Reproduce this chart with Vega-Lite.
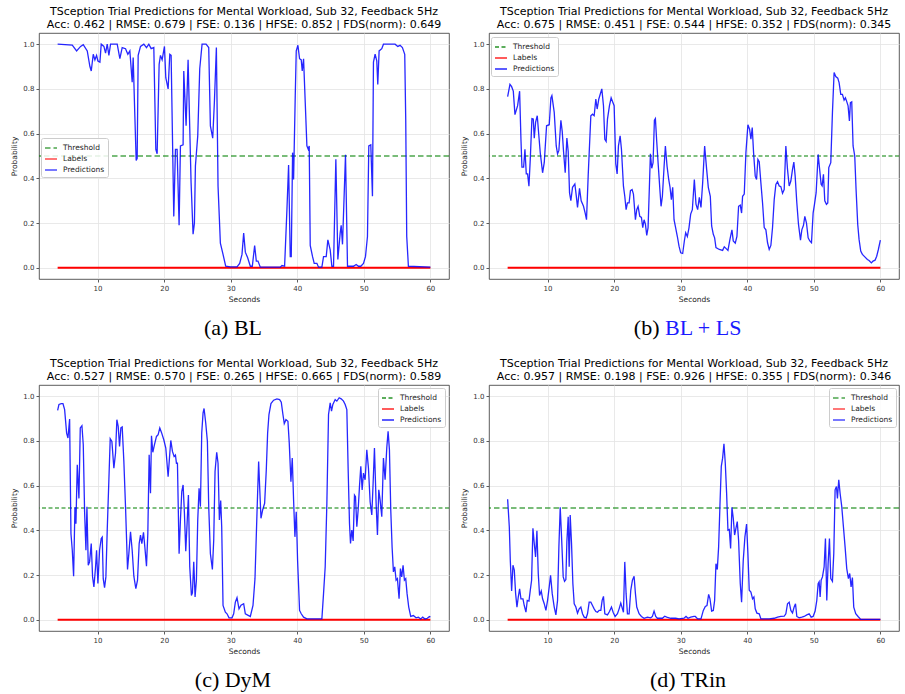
{
"$schema": "https://vega.github.io/schema/vega-lite/v6.json",
"autosize": {"type": "pad"},
"padding": {"left": 10, "top": 5, "right": 0, "bottom": 0},
"background": "white",
"columns": 2,
"bounds": "flush",
"spacing": {"row": 33, "column": 40},
"resolve": {"scale": {"color": "independent", "strokeDash": "independent"}},
"datasets": {
"labels": [{"t":4,"p":0},{"t":60,"p":0}],
"a": [{"t":4,"p":1.0},{"t":6.2,"p":0.996},{"t":6.85,"p":0.97},{"t":7.45,"p":0.99},{"t":7.85,"p":0.998},{"t":8.45,"p":0.97},{"t":8.85,"p":0.9},{"t":9.05,"p":0.88},{"t":9.35,"p":0.955},{"t":9.6,"p":0.93},{"t":9.85,"p":0.95},{"t":10.05,"p":0.925},{"t":10.35,"p":0.92},{"t":10.55,"p":1.0},{"t":10.95,"p":0.99},{"t":11.2,"p":0.96},{"t":11.45,"p":1.0},{"t":11.7,"p":0.95},{"t":11.95,"p":1.0},{"t":12.95,"p":1.0},{"t":13.35,"p":0.935},{"t":13.7,"p":0.985},{"t":14.2,"p":0.98},{"t":14.55,"p":0.955},{"t":14.85,"p":0.97},{"t":15.2,"p":0.83},{"t":15.35,"p":0.94},{"t":15.6,"p":0.68},{"t":15.8,"p":0.48},{"t":15.95,"p":0.49},{"t":16.1,"p":0.95},{"t":16.45,"p":0.99},{"t":16.95,"p":1.0},{"t":17.35,"p":0.985},{"t":17.7,"p":1.0},{"t":18.05,"p":0.98},{"t":18.45,"p":0.985},{"t":18.75,"p":0.53},{"t":18.95,"p":0.51},{"t":19.25,"p":0.91},{"t":19.45,"p":0.95},{"t":19.7,"p":0.93},{"t":20.05,"p":0.99},{"t":20.25,"p":0.85},{"t":20.6,"p":0.8},{"t":20.85,"p":0.955},{"t":21.05,"p":0.95},{"t":21.45,"p":0.23},{"t":21.7,"p":0.53},{"t":21.95,"p":0.53},{"t":22.25,"p":0.19},{"t":22.45,"p":0.545},{"t":22.85,"p":0.55},{"t":22.95,"p":0.88},{"t":23.3,"p":0.635},{"t":23.6,"p":0.93},{"t":24.05,"p":0.38},{"t":24.35,"p":0.15},{"t":24.55,"p":0.2},{"t":24.7,"p":0.455},{"t":25.05,"p":0.59},{"t":25.35,"p":0.89},{"t":25.7,"p":1.0},{"t":26.3,"p":1.0},{"t":26.7,"p":0.985},{"t":26.95,"p":0.635},{"t":27.3,"p":0.58},{"t":27.55,"p":0.74},{"t":27.85,"p":0.985},{"t":28.1,"p":0.365},{"t":28.45,"p":0.11},{"t":28.85,"p":0.06},{"t":29.25,"p":0.007},{"t":29.95,"p":0.004},{"t":30.95,"p":0.004},{"t":31.35,"p":0.02},{"t":31.7,"p":0.06},{"t":31.95,"p":0.155},{"t":32.2,"p":0.07},{"t":32.55,"p":0.045},{"t":32.95,"p":0.007},{"t":33.25,"p":0.007},{"t":33.6,"p":0.1},{"t":33.85,"p":0.03},{"t":34.1,"p":0.03},{"t":34.45,"p":0.003},{"t":37.45,"p":0.003},{"t":37.7,"p":0.01},{"t":38.1,"p":0.007},{"t":38.45,"p":0.26},{"t":38.7,"p":0.46},{"t":38.95,"p":0.05},{"t":39.1,"p":0.05},{"t":39.3,"p":0.515},{"t":39.45,"p":0.395},{"t":39.7,"p":0.77},{"t":39.85,"p":0.97},{"t":40.1,"p":0.995},{"t":40.35,"p":0.935},{"t":40.6,"p":0.93},{"t":40.75,"p":0.88},{"t":40.95,"p":0.935},{"t":41.2,"p":0.74},{"t":41.45,"p":0.545},{"t":41.65,"p":0.53},{"t":41.8,"p":0.545},{"t":41.95,"p":0.1},{"t":42.3,"p":0.05},{"t":42.55,"p":0.02},{"t":42.95,"p":0.02},{"t":43.2,"p":0.003},{"t":43.7,"p":0.003},{"t":43.95,"p":0.05},{"t":44.35,"p":0.05},{"t":44.6,"p":0.125},{"t":44.95,"p":0.08},{"t":45.2,"p":0.007},{"t":45.45,"p":0.007},{"t":45.8,"p":0.485},{"t":46.1,"p":0.037},{"t":46.45,"p":0.155},{"t":46.6,"p":0.19},{"t":46.8,"p":0.105},{"t":47.25,"p":0.505},{"t":47.55,"p":0.007},{"t":48.45,"p":0.007},{"t":48.85,"p":0.015},{"t":49.2,"p":0.007},{"t":49.55,"p":0.007},{"t":49.95,"p":0.02},{"t":50.25,"p":0.05},{"t":50.55,"p":0.14},{"t":50.75,"p":0.545},{"t":51.05,"p":0.55},{"t":51.3,"p":0.32},{"t":51.45,"p":0.92},{"t":51.7,"p":0.955},{"t":51.95,"p":0.925},{"t":52.1,"p":0.82},{"t":52.3,"p":0.97},{"t":52.7,"p":0.98},{"t":52.95,"p":1.0},{"t":54.7,"p":1.0},{"t":55.1,"p":0.99},{"t":55.45,"p":0.995},{"t":55.8,"p":0.985},{"t":56.15,"p":0.955},{"t":56.3,"p":0.66},{"t":56.45,"p":0.14},{"t":56.7,"p":0.007},{"t":60,"p":0.003}],
"b": [{"t":4,"p":0.765},{"t":4.35,"p":0.82},{"t":4.6,"p":0.81},{"t":4.85,"p":0.79},{"t":5.1,"p":0.685},{"t":5.5,"p":0.725},{"t":5.8,"p":0.79},{"t":6.0,"p":0.575},{"t":6.15,"p":0.45},{"t":6.4,"p":0.45},{"t":6.6,"p":0.53},{"t":6.8,"p":0.42},{"t":7.0,"p":0.42},{"t":7.2,"p":0.365},{"t":7.4,"p":0.485},{"t":7.65,"p":0.667},{"t":7.85,"p":0.665},{"t":8.0,"p":0.58},{"t":8.2,"p":0.65},{"t":8.45,"p":0.68},{"t":8.65,"p":0.605},{"t":8.9,"p":0.515},{"t":9.25,"p":0.425},{"t":9.5,"p":0.47},{"t":9.85,"p":0.635},{"t":10.25,"p":0.64},{"t":10.5,"p":0.76},{"t":10.65,"p":0.77},{"t":11.0,"p":0.695},{"t":11.3,"p":0.545},{"t":11.5,"p":0.51},{"t":11.7,"p":0.525},{"t":12.0,"p":0.66},{"t":12.2,"p":0.61},{"t":12.4,"p":0.52},{"t":12.65,"p":0.425},{"t":12.9,"p":0.58},{"t":13.1,"p":0.52},{"t":13.3,"p":0.335},{"t":13.5,"p":0.3},{"t":13.75,"p":0.36},{"t":14.1,"p":0.375},{"t":14.3,"p":0.325},{"t":14.5,"p":0.27},{"t":14.8,"p":0.355},{"t":15.05,"p":0.3},{"t":15.4,"p":0.275},{"t":15.65,"p":0.245},{"t":15.85,"p":0.215},{"t":16.1,"p":0.41},{"t":16.5,"p":0.68},{"t":16.75,"p":0.687},{"t":17.0,"p":0.68},{"t":17.25,"p":0.755},{"t":17.45,"p":0.71},{"t":17.7,"p":0.755},{"t":17.9,"p":0.775},{"t":18.15,"p":0.8},{"t":18.4,"p":0.725},{"t":18.6,"p":0.575},{"t":18.8,"p":0.565},{"t":19.0,"p":0.665},{"t":19.3,"p":0.725},{"t":19.55,"p":0.76},{"t":19.8,"p":0.74},{"t":20.0,"p":0.725},{"t":20.25,"p":0.465},{"t":20.45,"p":0.42},{"t":20.65,"p":0.545},{"t":20.9,"p":0.59},{"t":21.1,"p":0.53},{"t":21.4,"p":0.365},{"t":21.6,"p":0.32},{"t":21.8,"p":0.26},{"t":22.0,"p":0.29},{"t":22.25,"p":0.29},{"t":22.45,"p":0.345},{"t":22.7,"p":0.35},{"t":22.9,"p":0.33},{"t":23.2,"p":0.215},{"t":23.4,"p":0.26},{"t":23.6,"p":0.275},{"t":23.85,"p":0.23},{"t":24.1,"p":0.225},{"t":24.3,"p":0.18},{"t":24.5,"p":0.215},{"t":24.7,"p":0.195},{"t":24.9,"p":0.145},{"t":25.1,"p":0.18},{"t":25.3,"p":0.365},{"t":25.45,"p":0.51},{"t":25.65,"p":0.445},{"t":25.85,"p":0.47},{"t":26.05,"p":0.66},{"t":26.2,"p":0.667},{"t":26.4,"p":0.565},{"t":26.65,"p":0.45},{"t":26.85,"p":0.36},{"t":27.05,"p":0.275},{"t":27.25,"p":0.32},{"t":27.5,"p":0.45},{"t":27.7,"p":0.545},{"t":27.95,"p":0.455},{"t":28.2,"p":0.395},{"t":28.4,"p":0.36},{"t":28.6,"p":0.305},{"t":28.8,"p":0.36},{"t":29.0,"p":0.215},{"t":29.2,"p":0.185},{"t":29.5,"p":0.14},{"t":29.75,"p":0.097},{"t":30.0,"p":0.067},{"t":30.3,"p":0.064},{"t":30.55,"p":0.12},{"t":30.75,"p":0.157},{"t":31.0,"p":0.14},{"t":31.25,"p":0.18},{"t":31.5,"p":0.24},{"t":31.75,"p":0.26},{"t":32.05,"p":0.395},{"t":32.3,"p":0.285},{"t":32.55,"p":0.26},{"t":32.8,"p":0.315},{"t":33.05,"p":0.27},{"t":33.3,"p":0.38},{"t":33.6,"p":0.545},{"t":33.9,"p":0.44},{"t":34.15,"p":0.36},{"t":34.45,"p":0.32},{"t":34.65,"p":0.187},{"t":34.9,"p":0.15},{"t":35.1,"p":0.134},{"t":35.3,"p":0.09},{"t":35.8,"p":0.082},{"t":36.3,"p":0.078},{"t":36.55,"p":0.094},{"t":36.8,"p":0.087},{"t":37.1,"p":0.078},{"t":37.4,"p":0.127},{"t":37.7,"p":0.17},{"t":37.9,"p":0.12},{"t":38.2,"p":0.11},{"t":38.45,"p":0.14},{"t":38.7,"p":0.275},{"t":38.95,"p":0.28},{"t":39.15,"p":0.245},{"t":39.3,"p":0.32},{"t":39.55,"p":0.33},{"t":39.8,"p":0.515},{"t":40.1,"p":0.64},{"t":40.35,"p":0.62},{"t":40.55,"p":0.575},{"t":40.75,"p":0.627},{"t":40.95,"p":0.515},{"t":41.2,"p":0.41},{"t":41.4,"p":0.395},{"t":41.6,"p":0.485},{"t":41.8,"p":0.475},{"t":42.05,"p":0.38},{"t":42.3,"p":0.29},{"t":42.55,"p":0.18},{"t":42.8,"p":0.17},{"t":43.05,"p":0.112},{"t":43.3,"p":0.082},{"t":43.55,"p":0.1},{"t":43.8,"p":0.18},{"t":44.05,"p":0.305},{"t":44.3,"p":0.373},{"t":44.55,"p":0.385},{"t":44.8,"p":0.366},{"t":45.05,"p":0.363},{"t":45.3,"p":0.333},{"t":45.55,"p":0.35},{"t":45.8,"p":0.545},{"t":46.05,"p":0.44},{"t":46.3,"p":0.366},{"t":46.55,"p":0.388},{"t":46.8,"p":0.44},{"t":47.0,"p":0.473},{"t":47.2,"p":0.41},{"t":47.45,"p":0.29},{"t":47.7,"p":0.194},{"t":48.0,"p":0.124},{"t":48.2,"p":0.17},{"t":48.45,"p":0.19},{"t":48.65,"p":0.23},{"t":48.9,"p":0.2},{"t":49.15,"p":0.134},{"t":49.4,"p":0.12},{"t":49.65,"p":0.112},{"t":49.9,"p":0.246},{"t":50.1,"p":0.284},{"t":50.35,"p":0.336},{"t":50.65,"p":0.507},{"t":50.85,"p":0.448},{"t":51.1,"p":0.373},{"t":51.25,"p":0.366},{"t":51.45,"p":0.418},{"t":51.65,"p":0.3},{"t":51.9,"p":0.284},{"t":52.1,"p":0.29},{"t":52.25,"p":0.448},{"t":52.55,"p":0.47},{"t":52.8,"p":0.694},{"t":53.05,"p":0.873},{"t":53.3,"p":0.855},{"t":53.6,"p":0.848},{"t":53.8,"p":0.828},{"t":54.05,"p":0.776},{"t":54.3,"p":0.776},{"t":54.55,"p":0.75},{"t":54.75,"p":0.76},{"t":54.95,"p":0.743},{"t":55.15,"p":0.724},{"t":55.35,"p":0.657},{"t":55.5,"p":0.739},{"t":55.7,"p":0.742},{"t":55.9,"p":0.545},{"t":56.15,"p":0.5},{"t":56.35,"p":0.35},{"t":56.6,"p":0.194},{"t":56.8,"p":0.127},{"t":57.05,"p":0.075},{"t":57.3,"p":0.06},{"t":57.7,"p":0.048},{"t":58.05,"p":0.037},{"t":58.3,"p":0.033},{"t":58.65,"p":0.022},{"t":58.9,"p":0.03},{"t":59.2,"p":0.034},{"t":59.45,"p":0.052},{"t":59.7,"p":0.082},{"t":60.0,"p":0.124}],
"c": [{"t":4.0,"p":0.937},{"t":4.2,"p":0.963},{"t":4.55,"p":0.967},{"t":4.8,"p":0.967},{"t":5.05,"p":0.94},{"t":5.35,"p":0.835},{"t":5.55,"p":0.813},{"t":5.8,"p":0.898},{"t":6.0,"p":0.386},{"t":6.2,"p":0.311},{"t":6.4,"p":0.195},{"t":6.6,"p":0.503},{"t":6.75,"p":0.43},{"t":6.95,"p":0.693},{"t":7.2,"p":0.543},{"t":7.4,"p":0.858},{"t":7.65,"p":0.868},{"t":7.85,"p":0.783},{"t":8.05,"p":0.483},{"t":8.25,"p":0.311},{"t":8.4,"p":0.506},{"t":8.6,"p":0.244},{"t":8.8,"p":0.259},{"t":9.05,"p":0.341},{"t":9.25,"p":0.192},{"t":9.45,"p":0.147},{"t":9.7,"p":0.237},{"t":9.85,"p":0.311},{"t":10.05,"p":0.162},{"t":10.3,"p":0.311},{"t":10.55,"p":0.364},{"t":10.7,"p":0.37},{"t":10.85,"p":0.184},{"t":11.05,"p":0.144},{"t":11.25,"p":0.192},{"t":11.45,"p":0.401},{"t":11.7,"p":0.626},{"t":11.9,"p":0.81},{"t":12.15,"p":0.798},{"t":12.45,"p":0.678},{"t":12.7,"p":0.746},{"t":12.9,"p":0.895},{"t":13.1,"p":0.865},{"t":13.3,"p":0.775},{"t":13.5,"p":0.858},{"t":13.7,"p":0.862},{"t":13.95,"p":0.708},{"t":14.2,"p":0.506},{"t":14.5,"p":0.225},{"t":14.7,"p":0.296},{"t":14.95,"p":0.394},{"t":15.2,"p":0.311},{"t":15.45,"p":0.195},{"t":15.75,"p":0.139},{"t":16.0,"p":0.177},{"t":16.25,"p":0.341},{"t":16.45,"p":0.379},{"t":16.65,"p":0.341},{"t":16.9,"p":0.391},{"t":17.1,"p":0.326},{"t":17.35,"p":0.24},{"t":17.55,"p":0.386},{"t":17.75,"p":0.738},{"t":17.95,"p":0.566},{"t":18.1,"p":0.823},{"t":18.3,"p":0.749},{"t":18.55,"p":0.783},{"t":18.85,"p":0.82},{"t":19.1,"p":0.828},{"t":19.35,"p":0.858},{"t":19.6,"p":0.838},{"t":19.95,"p":0.805},{"t":20.25,"p":0.768},{"t":20.6,"p":0.64},{"t":20.8,"p":0.723},{"t":21.0,"p":0.802},{"t":21.25,"p":0.753},{"t":21.5,"p":0.73},{"t":21.7,"p":0.737},{"t":21.85,"p":0.7},{"t":22.0,"p":0.7},{"t":22.25,"p":0.296},{"t":22.45,"p":0.446},{"t":22.65,"p":0.573},{"t":22.85,"p":0.603},{"t":23.05,"p":0.476},{"t":23.25,"p":0.307},{"t":23.45,"p":0.431},{"t":23.65,"p":0.558},{"t":23.85,"p":0.237},{"t":24.1,"p":0.109},{"t":24.25,"p":0.12},{"t":24.45,"p":0.259},{"t":24.65,"p":0.102},{"t":24.85,"p":0.177},{"t":25.05,"p":0.446},{"t":25.25,"p":0.588},{"t":25.45,"p":0.506},{"t":25.65,"p":0.835},{"t":25.85,"p":0.925},{"t":26.0,"p":0.945},{"t":26.25,"p":0.88},{"t":26.5,"p":0.798},{"t":26.7,"p":0.506},{"t":26.95,"p":0.296},{"t":27.25,"p":0.225},{"t":27.45,"p":0.356},{"t":27.65,"p":0.663},{"t":27.9,"p":0.749},{"t":28.1,"p":0.7},{"t":28.3,"p":0.446},{"t":28.5,"p":0.533},{"t":28.65,"p":0.416},{"t":28.85,"p":0.064},{"t":29.2,"p":0.034},{"t":29.45,"p":0.027},{"t":29.75,"p":0.009},{"t":30.2,"p":0.009},{"t":30.45,"p":0.027},{"t":30.7,"p":0.079},{"t":30.95,"p":0.099},{"t":31.25,"p":0.049},{"t":31.55,"p":0.065},{"t":31.95,"p":0.072},{"t":32.2,"p":0.027},{"t":32.7,"p":0.019},{"t":32.95,"p":0.015},{"t":33.35,"p":0.064},{"t":33.65,"p":0.184},{"t":33.95,"p":0.476},{"t":34.2,"p":0.708},{"t":34.35,"p":0.596},{"t":34.55,"p":0.454},{"t":34.8,"p":0.491},{"t":35.1,"p":0.521},{"t":35.35,"p":0.671},{"t":35.55,"p":0.835},{"t":35.75,"p":0.918},{"t":36.05,"p":0.967},{"t":36.45,"p":0.982},{"t":36.95,"p":0.988},{"t":37.35,"p":0.985},{"t":37.6,"p":0.973},{"t":37.85,"p":0.918},{"t":38.05,"p":0.877},{"t":38.3,"p":0.895},{"t":38.6,"p":0.888},{"t":38.8,"p":0.79},{"t":39.05,"p":0.618},{"t":39.25,"p":0.723},{"t":39.45,"p":0.536},{"t":39.65,"p":0.371},{"t":39.85,"p":0.483},{"t":40.05,"p":0.266},{"t":40.35,"p":0.042},{"t":40.6,"p":0.027},{"t":40.95,"p":0.012},{"t":41.45,"p":0.004},{"t":43.7,"p":0.004},{"t":43.95,"p":0.117},{"t":44.2,"p":0.237},{"t":44.45,"p":0.521},{"t":44.7,"p":0.918},{"t":44.95,"p":0.97},{"t":45.15,"p":0.933},{"t":45.35,"p":0.963},{"t":45.7,"p":0.985},{"t":45.95,"p":0.978},{"t":46.3,"p":0.993},{"t":46.6,"p":0.988},{"t":46.95,"p":0.978},{"t":47.2,"p":0.963},{"t":47.45,"p":0.94},{"t":47.65,"p":0.671},{"t":47.85,"p":0.431},{"t":48.0,"p":0.341},{"t":48.2,"p":0.401},{"t":48.4,"p":0.353},{"t":48.6,"p":0.558},{"t":48.75,"p":0.551},{"t":48.95,"p":0.416},{"t":49.15,"p":0.491},{"t":49.35,"p":0.596},{"t":49.55,"p":0.686},{"t":49.75,"p":0.581},{"t":49.95,"p":0.656},{"t":50.2,"p":0.626},{"t":50.45,"p":0.76},{"t":50.7,"p":0.678},{"t":50.95,"p":0.528},{"t":51.2,"p":0.469},{"t":51.4,"p":0.611},{"t":51.6,"p":0.768},{"t":51.85,"p":0.521},{"t":52.05,"p":0.379},{"t":52.25,"p":0.581},{"t":52.45,"p":0.536},{"t":52.7,"p":0.461},{"t":52.95,"p":0.723},{"t":53.2,"p":0.626},{"t":53.45,"p":0.768},{"t":53.65,"p":0.843},{"t":53.85,"p":0.76},{"t":54.05,"p":0.491},{"t":54.25,"p":0.326},{"t":54.45,"p":0.214},{"t":54.65,"p":0.237},{"t":54.85,"p":0.177},{"t":55.05,"p":0.184},{"t":55.3,"p":0.094},{"t":55.5,"p":0.229},{"t":55.7,"p":0.192},{"t":55.9,"p":0.244},{"t":56.1,"p":0.177},{"t":56.3,"p":0.184},{"t":56.5,"p":0.117},{"t":56.75,"p":0.057},{"t":57.05,"p":0.015},{"t":57.45,"p":0.019},{"t":57.85,"p":0.009},{"t":58.2,"p":0.012},{"t":58.55,"p":0.004},{"t":58.85,"p":0.012},{"t":59.2,"p":0.004},{"t":59.55,"p":0.007},{"t":59.85,"p":0.015},{"t":60.0,"p":0.012}],
"d": [{"t":4.0,"p":0.539},{"t":4.25,"p":0.416},{"t":4.4,"p":0.266},{"t":4.6,"p":0.129},{"t":4.8,"p":0.244},{"t":5.0,"p":0.222},{"t":5.2,"p":0.117},{"t":5.4,"p":0.057},{"t":5.6,"p":0.102},{"t":5.8,"p":0.139},{"t":6.0,"p":0.094},{"t":6.3,"p":0.094},{"t":6.5,"p":0.064},{"t":6.75,"p":0.034},{"t":6.95,"p":0.087},{"t":7.2,"p":0.084},{"t":7.4,"p":0.132},{"t":7.6,"p":0.177},{"t":7.8,"p":0.409},{"t":8.0,"p":0.341},{"t":8.2,"p":0.281},{"t":8.4,"p":0.398},{"t":8.6,"p":0.207},{"t":8.8,"p":0.109},{"t":9.05,"p":0.129},{"t":9.25,"p":0.094},{"t":9.5,"p":0.072},{"t":9.75,"p":0.042},{"t":10.0,"p":0.087},{"t":10.25,"p":0.147},{"t":10.45,"p":0.199},{"t":10.7,"p":0.117},{"t":11.0,"p":0.057},{"t":11.25,"p":0.022},{"t":11.5,"p":0.087},{"t":11.7,"p":0.326},{"t":11.9,"p":0.503},{"t":12.1,"p":0.371},{"t":12.35,"p":0.192},{"t":12.55,"p":0.172},{"t":12.75,"p":0.18},{"t":12.9,"p":0.349},{"t":13.1,"p":0.461},{"t":13.25,"p":0.237},{"t":13.4,"p":0.469},{"t":13.6,"p":0.341},{"t":13.8,"p":0.162},{"t":14.0,"p":0.072},{"t":14.25,"p":0.057},{"t":14.5,"p":0.03},{"t":14.75,"p":0.049},{"t":15.0,"p":0.057},{"t":15.25,"p":0.027},{"t":15.5,"p":0.012},{"t":15.8,"p":0.009},{"t":16.0,"p":0.027},{"t":16.25,"p":0.079},{"t":16.5,"p":0.079},{"t":16.75,"p":0.064},{"t":17.0,"p":0.049},{"t":17.25,"p":0.037},{"t":17.5,"p":0.034},{"t":17.75,"p":0.042},{"t":18.0,"p":0.042},{"t":18.2,"p":0.087},{"t":18.4,"p":0.105},{"t":18.6,"p":0.027},{"t":19.0,"p":0.022},{"t":19.3,"p":0.037},{"t":19.6,"p":0.057},{"t":19.85,"p":0.034},{"t":20.15,"p":0.015},{"t":20.5,"p":0.027},{"t":20.75,"p":0.049},{"t":21.0,"p":0.075},{"t":21.25,"p":0.049},{"t":21.4,"p":0.034},{"t":21.6,"p":0.259},{"t":21.8,"p":0.117},{"t":22.0,"p":0.027},{"t":22.25,"p":0.027},{"t":22.5,"p":0.132},{"t":22.75,"p":0.177},{"t":23.0,"p":0.195},{"t":23.2,"p":0.117},{"t":23.4,"p":0.057},{"t":23.75,"p":0.027},{"t":24.1,"p":0.015},{"t":24.5,"p":0.007},{"t":25.0,"p":0.012},{"t":25.5,"p":0.009},{"t":25.75,"p":0.015},{"t":26.0,"p":0.039},{"t":26.25,"p":0.015},{"t":26.5,"p":0.007},{"t":27.25,"p":0.007},{"t":27.6,"p":0.016},{"t":27.9,"p":0.012},{"t":28.5,"p":0.007},{"t":29.25,"p":0.007},{"t":29.75,"p":0.004},{"t":30.5,"p":0.007},{"t":30.8,"p":0.015},{"t":31.1,"p":0.007},{"t":31.5,"p":0.012},{"t":32.0,"p":0.015},{"t":32.2,"p":0.015},{"t":32.55,"p":0.004},{"t":33.05,"p":0.004},{"t":33.4,"p":0.042},{"t":33.7,"p":0.06},{"t":33.95,"p":0.064},{"t":34.2,"p":0.114},{"t":34.4,"p":0.094},{"t":34.65,"p":0.039},{"t":34.9,"p":0.042},{"t":35.1,"p":0.087},{"t":35.3,"p":0.251},{"t":35.5,"p":0.225},{"t":35.7,"p":0.326},{"t":35.9,"p":0.513},{"t":36.1,"p":0.686},{"t":36.3,"p":0.723},{"t":36.5,"p":0.787},{"t":36.7,"p":0.7},{"t":36.9,"p":0.566},{"t":37.1,"p":0.401},{"t":37.3,"p":0.404},{"t":37.5,"p":0.319},{"t":37.7,"p":0.503},{"t":37.9,"p":0.454},{"t":38.1,"p":0.379},{"t":38.3,"p":0.409},{"t":38.5,"p":0.439},{"t":38.7,"p":0.356},{"t":38.95,"p":0.162},{"t":39.15,"p":0.079},{"t":39.4,"p":0.266},{"t":39.65,"p":0.371},{"t":39.9,"p":0.428},{"t":40.1,"p":0.296},{"t":40.3,"p":0.132},{"t":40.55,"p":0.124},{"t":40.8,"p":0.094},{"t":41.0,"p":0.102},{"t":41.2,"p":0.049},{"t":41.45,"p":0.03},{"t":41.8,"p":0.027},{"t":42.05,"p":0.004},{"t":43.3,"p":0.004},{"t":44.05,"p":0.007},{"t":44.55,"p":0.012},{"t":45.05,"p":0.015},{"t":45.55,"p":0.016},{"t":45.8,"p":0.027},{"t":46.05,"p":0.072},{"t":46.3,"p":0.079},{"t":46.55,"p":0.042},{"t":46.8,"p":0.031},{"t":47.05,"p":0.057},{"t":47.25,"p":0.072},{"t":47.45,"p":0.015},{"t":47.8,"p":0.009},{"t":48.2,"p":0.012},{"t":48.55,"p":0.015},{"t":48.95,"p":0.022},{"t":49.3,"p":0.027},{"t":49.6,"p":0.012},{"t":49.9,"p":0.015},{"t":50.2,"p":0.039},{"t":50.45,"p":0.087},{"t":50.65,"p":0.162},{"t":50.8,"p":0.17},{"t":50.95,"p":0.102},{"t":51.1,"p":0.177},{"t":51.3,"p":0.192},{"t":51.55,"p":0.237},{"t":51.75,"p":0.364},{"t":51.95,"p":0.087},{"t":52.15,"p":0.251},{"t":52.35,"p":0.364},{"t":52.55,"p":0.184},{"t":52.8,"p":0.172},{"t":53.0,"p":0.296},{"t":53.2,"p":0.581},{"t":53.4,"p":0.596},{"t":53.55,"p":0.543},{"t":53.75,"p":0.626},{"t":53.95,"p":0.566},{"t":54.2,"p":0.506},{"t":54.45,"p":0.416},{"t":54.7,"p":0.326},{"t":54.95,"p":0.229},{"t":55.2,"p":0.184},{"t":55.4,"p":0.207},{"t":55.6,"p":0.147},{"t":55.8,"p":0.189},{"t":56.0,"p":0.057},{"t":56.3,"p":0.027},{"t":56.65,"p":0.015},{"t":57.05,"p":0.002},{"t":60.0,"p":0.002}]
},
"concat": [
{
"width": 410, "height": 246,
"title": {"text": ["TSception Trial Predictions for Mental Workload, Sub 32, Feedback 5Hz", "Acc: 0.462 | RMSE: 0.679 | FSE: 0.136 | HFSE: 0.852 | FDS(norm): 0.649"]},
"layer": [
{"data": {"values": [{}]}, "mark": {"type": "rule", "strokeWidth": 1.4, "opacity": 0.7},
 "encoding": {"y": {"datum": 0.5},
  "color": {"datum": "Threshold", "scale": {"domain": ["Threshold", "Labels", "Predictions"], "range": ["#008000", "#ff0000", "#0000ff"]}, "legend": {"title": null, "orient": "none", "legendX": 2, "legendY": 105}},
  "strokeDash": {"datum": "Threshold", "scale": {"domain": ["Threshold", "Labels", "Predictions"], "range": [[5.5, 3], [1, 0], [1, 0]]}, "legend": {"title": null, "orient": "none", "legendX": 2, "legendY": 105}}}},
{"data": {"name": "labels"}, "mark": {"type": "line", "strokeWidth": 2}, "encoding": {"x": {"field": "t", "type": "quantitative", "scale": {"domain": [1.2, 62.8], "nice": false, "zero": false}, "axis": {"values": [10, 20, 30, 40, 50, 60], "format": "d", "title": "Seconds"}}, "y": {"field": "p", "type": "quantitative", "scale": {"domain": [-0.05, 1.05], "nice": false, "zero": false}, "axis": {"values": [0, 0.2, 0.4, 0.6, 0.8, 1], "format": ".1f", "title": "Probability"}}, "color": {"datum": "Labels"}}},
{"data": {"name": "a"}, "mark": {"type": "line", "strokeWidth": 1.3, "opacity": 0.85}, "encoding": {"x": {"field": "t", "type": "quantitative"}, "y": {"field": "p", "type": "quantitative"}, "color": {"datum": "Predictions"}}}
]
},
{
"width": 410, "height": 246,
"title": {"text": ["TSception Trial Predictions for Mental Workload, Sub 32, Feedback 5Hz", "Acc: 0.675 | RMSE: 0.451 | FSE: 0.544 | HFSE: 0.352 | FDS(norm): 0.345"]},
"layer": [
{"data": {"values": [{}]}, "mark": {"type": "rule", "strokeWidth": 1.1},
 "encoding": {"y": {"datum": 0.5},
  "color": {"datum": "Threshold", "scale": {"domain": ["Threshold", "Labels", "Predictions"], "range": ["#008000", "#ff0000", "#0000ff"]}, "legend": {"title": null, "orient": "none", "legendX": 2, "legendY": 4}},
  "strokeDash": {"datum": "Threshold", "scale": {"domain": ["Threshold", "Labels", "Predictions"], "range": [[4, 2.5], [1, 0], [1, 0]]}, "legend": {"title": null, "orient": "none", "legendX": 2, "legendY": 4}}}},
{"data": {"name": "labels"}, "mark": {"type": "line", "strokeWidth": 2}, "encoding": {"x": {"field": "t", "type": "quantitative", "scale": {"domain": [1.2, 62.8], "nice": false, "zero": false}, "axis": {"values": [10, 20, 30, 40, 50, 60], "format": "d", "title": "Seconds"}}, "y": {"field": "p", "type": "quantitative", "scale": {"domain": [-0.05, 1.05], "nice": false, "zero": false}, "axis": {"values": [0, 0.2, 0.4, 0.6, 0.8, 1], "format": ".1f", "title": "Probability"}}, "color": {"datum": "Labels"}}},
{"data": {"name": "b"}, "mark": {"type": "line", "strokeWidth": 1.3, "opacity": 0.85}, "encoding": {"x": {"field": "t", "type": "quantitative"}, "y": {"field": "p", "type": "quantitative"}, "color": {"datum": "Predictions"}}}
]
},
{
"width": 410, "height": 40, "view": {"stroke": null},
"data": {"values": [{"caption": "(a) BL"}]},
"mark": {"type": "text", "font": "Liberation Serif", "fontSize": 22, "baseline": "middle", "dy": -4, "dx": -11, "color": "#000000"},
"encoding": {"text": {"field": "caption"}}
},
{
"width": 410, "height": 40, "view": {"stroke": null},
"data": {"values": [{"a": "(b)", "b": "BL + LS"}]},
"layer": [
{"mark": {"type": "text", "font": "Liberation Serif", "fontSize": 22, "baseline": "middle", "dy": -4, "dx": -34.5, "align": "right", "color": "#000000"}, "encoding": {"text": {"field": "a"}}},
{"mark": {"type": "text", "font": "Liberation Serif", "fontSize": 22, "baseline": "middle", "dy": -4, "dx": -29, "align": "left", "color": "#1a1aff"}, "encoding": {"text": {"field": "b"}}}
]
},
{
"width": 410, "height": 246,
"title": {"text": ["TSception Trial Predictions for Mental Workload, Sub 32, Feedback 5Hz", "Acc: 0.527 | RMSE: 0.570 | FSE: 0.265 | HFSE: 0.665 | FDS(norm): 0.589"]},
"layer": [
{"data": {"values": [{}]}, "mark": {"type": "rule", "strokeWidth": 1.1},
 "encoding": {"y": {"datum": 0.5},
  "color": {"datum": "Threshold", "scale": {"domain": ["Threshold", "Labels", "Predictions"], "range": ["#008000", "#ff0000", "#0000ff"]}, "legend": {"title": null, "orient": "none", "legendX": 339, "legendY": 3}},
  "strokeDash": {"datum": "Threshold", "scale": {"domain": ["Threshold", "Labels", "Predictions"], "range": [[4, 2.5], [1, 0], [1, 0]]}, "legend": {"title": null, "orient": "none", "legendX": 339, "legendY": 3}}}},
{"data": {"name": "labels"}, "mark": {"type": "line", "strokeWidth": 2}, "encoding": {"x": {"field": "t", "type": "quantitative", "scale": {"domain": [1.2, 62.8], "nice": false, "zero": false}, "axis": {"values": [10, 20, 30, 40, 50, 60], "format": "d", "title": "Seconds"}}, "y": {"field": "p", "type": "quantitative", "scale": {"domain": [-0.05, 1.05], "nice": false, "zero": false}, "axis": {"values": [0, 0.2, 0.4, 0.6, 0.8, 1], "format": ".1f", "title": "Probability"}}, "color": {"datum": "Labels"}}},
{"data": {"name": "c"}, "mark": {"type": "line", "strokeWidth": 1.3, "opacity": 0.85}, "encoding": {"x": {"field": "t", "type": "quantitative"}, "y": {"field": "p", "type": "quantitative"}, "color": {"datum": "Predictions"}}}
]
},
{
"width": 410, "height": 246,
"title": {"text": ["TSception Trial Predictions for Mental Workload, Sub 32, Feedback 5Hz", "Acc: 0.957 | RMSE: 0.198 | FSE: 0.926 | HFSE: 0.355 | FDS(norm): 0.346"]},
"layer": [
{"data": {"values": [{}]}, "mark": {"type": "rule", "strokeWidth": 1.4, "opacity": 0.7},
 "encoding": {"y": {"datum": 0.5},
  "color": {"datum": "Threshold", "scale": {"domain": ["Threshold", "Labels", "Predictions"], "range": ["#008000", "#ff0000", "#0000ff"]}, "legend": {"title": null, "orient": "none", "legendX": 340, "legendY": 3}},
  "strokeDash": {"datum": "Threshold", "scale": {"domain": ["Threshold", "Labels", "Predictions"], "range": [[5.5, 3], [1, 0], [1, 0]]}, "legend": {"title": null, "orient": "none", "legendX": 340, "legendY": 3}}}},
{"data": {"name": "labels"}, "mark": {"type": "line", "strokeWidth": 2}, "encoding": {"x": {"field": "t", "type": "quantitative", "scale": {"domain": [1.2, 62.8], "nice": false, "zero": false}, "axis": {"values": [10, 20, 30, 40, 50, 60], "format": "d", "title": "Seconds"}}, "y": {"field": "p", "type": "quantitative", "scale": {"domain": [-0.05, 1.05], "nice": false, "zero": false}, "axis": {"values": [0, 0.2, 0.4, 0.6, 0.8, 1], "format": ".1f", "title": "Probability"}}, "color": {"datum": "Labels"}}},
{"data": {"name": "d"}, "mark": {"type": "line", "strokeWidth": 1.3, "opacity": 0.85}, "encoding": {"x": {"field": "t", "type": "quantitative"}, "y": {"field": "p", "type": "quantitative"}, "color": {"datum": "Predictions"}}}
]
},
{
"width": 410, "height": 40, "view": {"stroke": null},
"data": {"values": [{"caption": "(c) DyM"}]},
"mark": {"type": "text", "font": "Liberation Serif", "fontSize": 22, "baseline": "middle", "dy": -4, "dx": -11, "color": "#000000"},
"encoding": {"text": {"field": "caption"}}
},
{
"width": 410, "height": 40, "view": {"stroke": null},
"data": {"values": [{"caption": "(d) TRin"}]},
"mark": {"type": "text", "font": "Liberation Serif", "fontSize": 22, "baseline": "middle", "dy": -4, "dx": -6, "color": "#000000"},
"encoding": {"text": {"field": "caption"}}
}
],
"config": {
"font": "DejaVu Sans",
"view": {"stroke": "#333333", "strokeWidth": 0.8},
"title": {"font": "DejaVu Sans", "fontSize": 11, "fontWeight": "normal", "color": "#000000", "anchor": "middle", "offset": 3, "lineHeight": 13.5},
"axis": {"grid": true, "gridColor": "#e3e3e3", "gridWidth": 0.8, "domain": false, "tickColor": "#333333", "tickSize": 3, "tickWidth": 0.8, "labelFont": "DejaVu Sans", "labelFontSize": 7, "labelColor": "#333333", "labelPadding": 2, "titleFont": "DejaVu Sans", "titleFontSize": 7.5, "titleFontWeight": "normal", "titleColor": "#222222", "titlePadding": 4},
"legend": {"symbolType": "stroke", "symbolSize": 144, "symbolStrokeWidth": 1.5, "labelFont": "DejaVu Sans", "labelFontSize": 7.5, "labelColor": "#222222", "fillColor": "rgba(255,255,255,0.85)", "strokeColor": "#cccccc", "cornerRadius": 2, "padding": 3, "rowPadding": 0, "labelOffset": 5}
}
}
